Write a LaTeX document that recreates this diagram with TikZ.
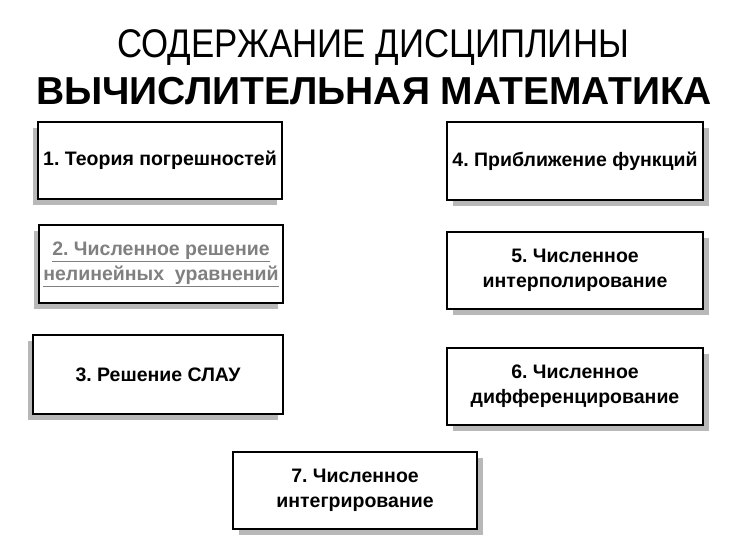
\documentclass[tikz,border=0pt]{standalone}
\usepackage{fontspec}
\setmainfont{Liberation Sans}
\frenchspacing
\usetikzlibrary{shadows}
\definecolor{shadowgray}{HTML}{B8B8B8}
\definecolor{linkgray}{HTML}{808080}
\tikzset{
  box/.style={draw=black, line width=2pt, fill=white, align=center,
    font=\fontsize{19.5}{25}\selectfont\bfseries, inner sep=0pt},
  lshadow/.style={drop shadow={shadow xshift=-5pt, shadow yshift=-6pt, fill=shadowgray, opacity=1}},
  rshadow/.style={drop shadow={shadow xshift=6pt, shadow yshift=-6pt, fill=shadowgray, opacity=1}},
}
\begin{document}
\begin{tikzpicture}[x=1pt,y=-1pt]
\useasboundingbox (0,0) rectangle (735,537);
\node[font=\fontsize{40}{42}\selectfont, xscale=0.87] (t1) at (373,48) {СОДЕРЖАНИЕ ДИСЦИПЛИНЫ};
\node[font=\fontsize{39}{42}\selectfont\bfseries] (t2) at (374,91) {ВЫЧИСЛИТЕЛЬНАЯ МАТЕМАТИКА};
\node[box, lshadow, minimum width=244pt, minimum height=77pt] (b1) at (160,160.5) {1. Теория погрешностей};
\node[box, lshadow, minimum width=244pt, minimum height=78pt, text=linkgray] (b2) at (161,264)
  {\underline{2. Численное решение}\\\underline{нелинейных\ \ уравнений}};
\node[box, lshadow, minimum width=250pt, minimum height=79pt] (b3) at (158,374.5) {3. Решение СЛАУ};
\node[box, rshadow, minimum width=256pt, minimum height=78pt] (b4) at (575,161) {4. Приближение функций};
\node[box, rshadow, minimum width=256pt, minimum height=77pt] (b5) at (575,270.5) {5. Численное\\интерполирование};
\node[box, rshadow, minimum width=256pt, minimum height=77pt] (b6) at (575,386.5) {6. Численное\\дифференцирование};
\node[box, rshadow, minimum width=244pt, minimum height=77pt] (b7) at (355,490.5) {7. Численное\\интегрирование};
\end{tikzpicture}
\end{document}
